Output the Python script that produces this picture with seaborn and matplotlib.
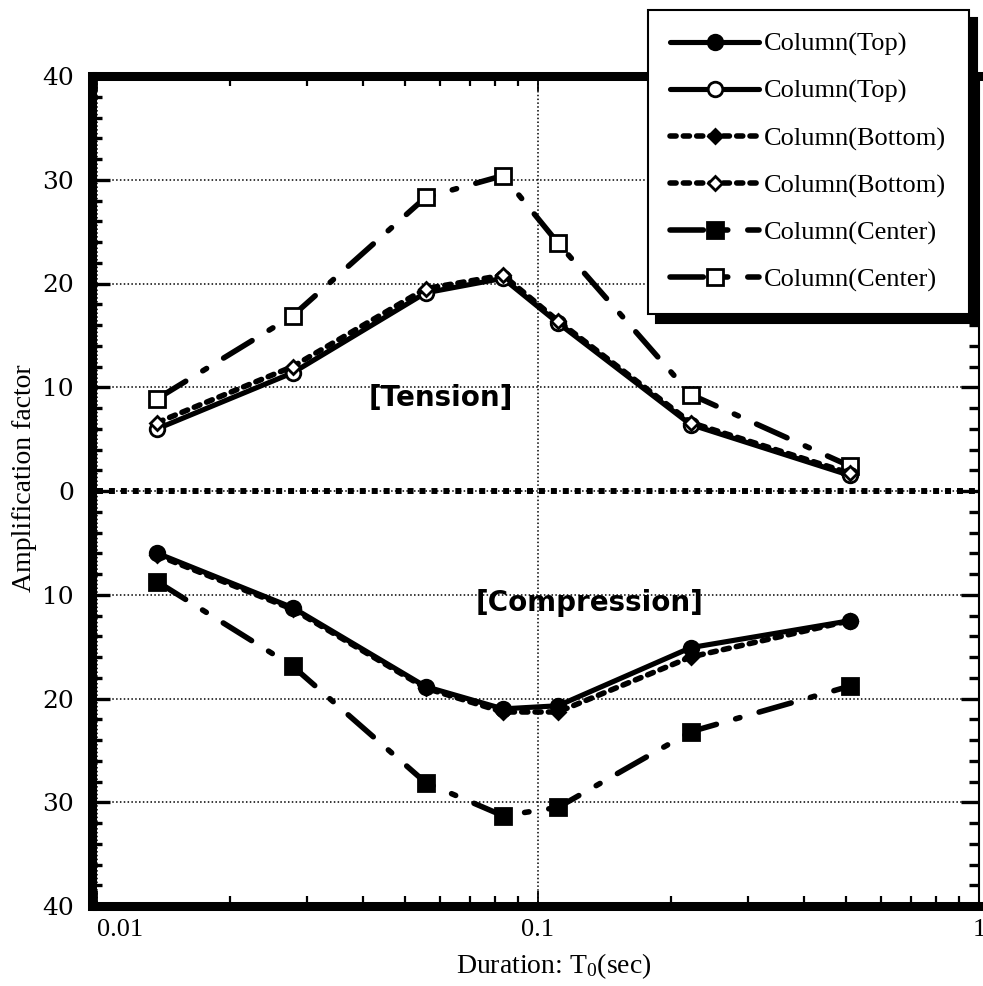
import numpy as np
import pandas as pd
import matplotlib
matplotlib.use("Agg")
import matplotlib.pyplot as plt
import seaborn as sns
from matplotlib.ticker import MultipleLocator, LogLocator, NullFormatter

# ---------------- data ----------------
T0 = [0.0137, 0.0278, 0.0556, 0.0833, 0.111, 0.222, 0.51]

top_tension = [6.0, 11.4, 19.1, 20.5, 16.2, 6.4, 1.5]
bottom_tension = [6.6, 12.0, 19.5, 20.8, 16.4, 6.6, 1.7]
center_tension = [8.9, 16.9, 28.3, 30.4, 23.9, 9.3, 2.4]

top_compression = [-6.0, -11.25, -18.85, -21.0, -20.7, -15.1, -12.5]
bottom_compression = [-6.2, -11.4, -19.0, -21.3, -21.3, -16.0, -12.5]
center_compression = [-8.75, -16.9, -28.1, -31.3, -30.5, -23.2, -18.8]

series_labels = ["Column(Top)", "Column(Top)", "Column(Bottom)",
                 "Column(Bottom)", "Column(Center)", "Column(Center)"]

ytick_values = [-40, -30, -20, -10, 0, 10, 20, 30, 40]
ytick_labels = ["40", "30", "20", "10", "0", "10", "20", "30", "40"]
xtick_values = [0.01, 0.1, 1]
xtick_labels = ["0.01", "0.1", "1"]

# ---------------- style ----------------
sns.set_theme(style="white")
plt.rcParams["font.family"] = ["Liberation Serif", "DejaVu Serif"]
plt.rcParams["mathtext.fontset"] = "custom"
plt.rcParams["mathtext.rm"] = "Liberation Serif"
plt.rcParams["mathtext.it"] = "Liberation Serif:italic"
for k in ["text.color", "axes.labelcolor", "xtick.color", "ytick.color",
          "axes.edgecolor"]:
    plt.rcParams[k] = "black"

fig = plt.figure(figsize=(9.83, 9.86), dpi=100)
ax = fig.add_axes([97 / 983, 80 / 986, (979 - 97) / 983, 830 / 986])
ax.set_xscale("log")
ax.set_xlim(0.01, 1)
ax.set_ylim(-40, 40)

center_dash = (0, (6.0, 3.6, 0.8, 3.6))
bottom_dash = (0, (1.1, 1.3))

specs = [
    # key, values, linestyle, lw, marker, ms, facecolor, zorder
    ("cen_c", center_compression, center_dash, 4.0, "s", 11.5, "black", 3),
    ("cen_t", center_tension, center_dash, 4.0, "s", 11.5, "white", 3),
    ("top_c", top_compression, "-", 3.7, "o", 10.5, "black", 4),
    ("top_t", top_tension, "-", 3.7, "o", 10.5, "white", 4),
    ("bot_c", bottom_compression, bottom_dash, 4.0, "D", 7.5, "black", 5),
    ("bot_t", bottom_tension, bottom_dash, 4.0, "D", 7.5, "white", 5),
]

handles = {}
for key, vals, ls, lw, mk, ms, fc, z in specs:
    df = pd.DataFrame({"T0": T0, "value": vals})
    sns.lineplot(data=df, x="T0", y="value", ax=ax, estimator=None,
                 errorbar=None, sort=False, color="black", linewidth=lw,
                 linestyle=ls, marker=mk, markersize=ms,
                 markerfacecolor=fc, markeredgecolor="black",
                 markeredgewidth=2.0, zorder=z, legend=False)
    line = ax.get_lines()[-1]
    line.set_dash_capstyle("round")
    handles[key] = line

# zero reference line
ax.axhline(0, color="black", lw=4.3, ls=(0, (1, 1)), zorder=2)

# grid
ax.set_axisbelow(True)
ax.grid(True, which="major", axis="both", color="black", lw=1.1,
        ls=(0, (1, 1.5)))

# ticks
ax.set_yticks(ytick_values, ytick_labels)
ax.yaxis.set_minor_locator(MultipleLocator(2))
ax.set_xticks(xtick_values, xtick_labels)
ax.xaxis.set_minor_locator(LogLocator(base=10, subs=np.arange(2, 10)))
ax.xaxis.set_minor_formatter(NullFormatter())

ax.tick_params(which="both", direction="in", top=True, right=True,
               bottom=True, left=True, colors="black")
ax.tick_params(axis="y", which="major", length=13, width=2.4, pad=13,
               labelsize=18, labelfontfamily="DejaVu Serif")
ax.tick_params(axis="y", which="minor", length=7, width=2.4)
ax.tick_params(axis="x", which="major", length=11, width=1.3, pad=9,
               labelsize=19)
ax.tick_params(axis="x", which="minor", length=7, width=1.6)
ax.get_xticklabels()[0].set_horizontalalignment("left")

# spines
for side in ["left", "top", "bottom"]:
    ax.spines[side].set_linewidth(6.5)
ax.spines["right"].set_linewidth(1.5)
ax.spines["left"].set_position(("outward", 3.6))

# labels
ax.set_xlabel(r"Duration: T$_\mathrm{0}$(sec)", fontsize=20)
ax.set_ylabel("Amplification factor", fontsize=20)
ax.xaxis.set_label_coords(0.518, -0.054)
ax.yaxis.set_label_coords(-0.068, 0.516)

ax.text(0.390, 0.612, "[Tension]", transform=ax.transAxes, ha="center",
        va="center", fontsize=20, fontweight="bold", family="DejaVu Sans",
        color="black", zorder=6)
ax.text(0.559, 0.365, "[Compression]", transform=ax.transAxes, ha="center",
        va="center", fontsize=20, fontweight="bold", family="DejaVu Sans",
        color="black", zorder=6)

# legend
order = ["top_c", "top_t", "bot_c", "bot_t", "cen_c", "cen_t"]
leg = ax.legend([handles[k] for k in order], series_labels,
                loc="upper left", bbox_to_anchor=(648 / 983, 1 - 10 / 986),
                bbox_transform=fig.transFigure, borderaxespad=0,
                frameon=True, fancybox=False, edgecolor="black",
                facecolor="white", framealpha=1, fontsize=19,
                handlelength=3.35, handletextpad=0.2, labelspacing=0.88,
                borderpad=0.85, numpoints=1,
                shadow={"ox": 6, "oy": -6, "facecolor": "black",
                        "edgecolor": "black", "alpha": 1})
leg.get_frame().set_linewidth(1.5)
for t in leg.get_texts():
    t.set_color("black")

fig.savefig("out.png", dpi=100)
